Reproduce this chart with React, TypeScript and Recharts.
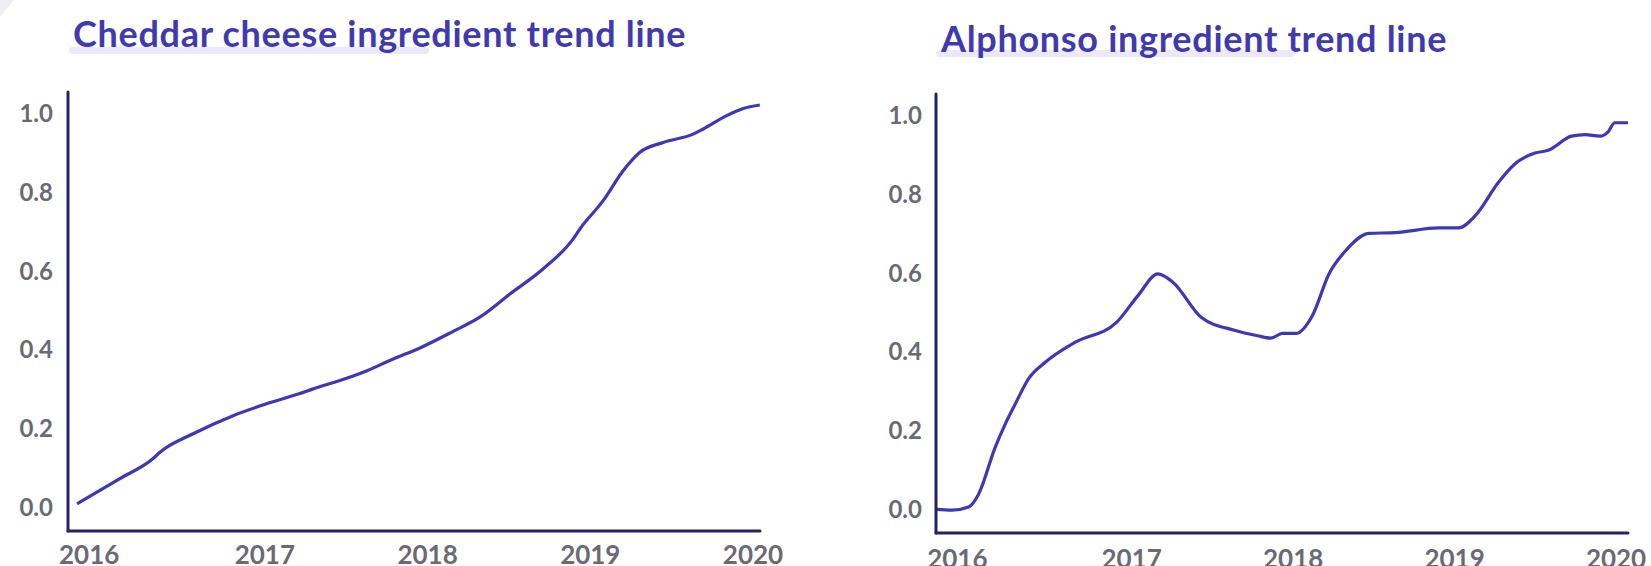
import { LineChart, Line, XAxis, YAxis } from 'recharts';

// decimal years, with the trend value at each
const cheddarYears = [
  2015.846, 2016.109, 2016.313, 2016.355, 2016.559, 2016.805, 2017.01, 2017.215, 2017.297, 2017.461,
  2017.604, 2017.789, 2017.953, 2018.157, 2018.321, 2018.506, 2018.711, 2018.895, 2018.936,
  2019.079, 2019.202, 2019.305, 2019.448, 2019.632, 2019.694, 2019.838, 2019.94, 2020.042
];
const cheddarValues = [
  0.009, 0.073, 0.124, 0.14, 0.187, 0.233, 0.263, 0.289, 0.301, 0.322,
  0.343, 0.377, 0.405, 0.447, 0.483, 0.542, 0.606, 0.682, 0.707,
  0.779, 0.855, 0.902, 0.927, 0.948, 0.961, 0.995, 1.013, 1.022
];

const alphonsoYears = [
  2015.788, 2015.887, 2015.99, 2016.051, 2016.154, 2016.216, 2016.278, 2016.36, 2016.463,
  2016.648, 2016.906, 2017.039, 2017.162, 2017.255, 2017.43, 2017.636, 2017.78, 2017.862,
  2017.934, 2018.017, 2018.119, 2018.222, 2018.325, 2018.469, 2018.634, 2018.901, 2019.025,
  2019.128, 2019.272, 2019.375, 2019.498, 2019.58, 2019.724, 2019.807, 2019.9, 2019.951,
  2019.992, 2020.074
];
const alphonsoValues = [
  0.0, -0.002, 0.006, 0.038, 0.157, 0.216, 0.267, 0.331, 0.373,
  0.424, 0.475, 0.543, 0.598, 0.577, 0.488, 0.455, 0.441, 0.435,
  0.447, 0.447, 0.492, 0.598, 0.657, 0.701, 0.703, 0.715, 0.715,
  0.746, 0.831, 0.878, 0.905, 0.912, 0.948, 0.952, 0.948, 0.959,
  0.982, 0.982
];

const yearTicks = [2015.92, 2017, 2018, 2019, 2020];
const yearLabels = ['2016', '2017', '2018', '2019', '2020'];
const valueTicks = [0, 0.2, 0.4, 0.6, 0.8, 1.0];

const LINE = '#3d38b5';
const AXIS = '#262262';
const TICK = '#6b6a74';
const TITLE = '#3f3ab0';
const FONT = 'Lato, "Open Sans", sans-serif';

const yTickStyle = { fill: TICK, fontSize: 24, fontWeight: 700, fontFamily: FONT };
const xTickStyle = { fill: TICK, fontSize: 26, fontWeight: 700, fontFamily: FONT };
const axisLine = { stroke: AXIS, strokeWidth: 3, strokeLinecap: 'round' as const };

interface TrendProps {
  years: number[];
  values: number[];
  domain: [number, number];
  width: number;
  yAxisWidth: number;
  top: number;
  right: number;
  xAxisHeight: number;
  xGap: number;
  yGap: number;
}

function TrendChart({ years, values, domain, width, yAxisWidth, top, right, xAxisHeight, xGap, yGap }: TrendProps) {
  const data = years.map((t, i) => ({ t, v: values[i] }));
  return (
    <LineChart width={width} height={566} data={data} margin={{ top, right, bottom: 0, left: 0 }}>
      <XAxis
        dataKey="t"
        type="number"
        domain={domain}
        ticks={yearTicks}
        interval={0}
        allowDataOverflow
        height={xAxisHeight}
        axisLine={axisLine}
        tickLine={false}
        tickSize={0}
        tickMargin={xGap}
        tick={xTickStyle}
        tickFormatter={(_v: number, i: number) => yearLabels[i]}
      />
      <YAxis
        type="number"
        domain={[-0.06, 1.055]}
        ticks={valueTicks}
        interval={0}
        allowDataOverflow
        width={yAxisWidth}
        axisLine={axisLine}
        tickLine={false}
        tickSize={0}
        tickMargin={yGap}
        tick={yTickStyle}
        tickFormatter={(v: number) => v.toFixed(1)}
      />
      <Line
        dataKey="v"
        type="monotone"
        stroke={LINE}
        strokeWidth={3.2}
        dot={false}
        isAnimationActive={false}
      />
    </LineChart>
  );
}

function Title({ text, left, top, barLeft, barTop, barWidth }: { text: string; left: number; top: number; barLeft: number; barTop: number; barWidth: number }) {
  return (
    <>
      <div
        style={{
          position: 'absolute',
          left: barLeft,
          top: barTop,
          width: barWidth,
          height: 7,
          borderRadius: 4,
          background: '#ebe9f8'
        }}
      />
      <div
        style={{
          position: 'absolute',
          left,
          top,
          fontFamily: FONT,
          fontWeight: 700,
          fontSize: 36,
          letterSpacing: 0.7,
          lineHeight: '44px',
          color: TITLE,
          whiteSpace: 'nowrap'
        }}
      >
        {text}
      </div>
    </>
  );
}

export default function App() {
  return (
    <div style={{ position: 'absolute', left: 0, top: 0, width: 1651, height: 566, background: '#fff', overflow: 'hidden' }}>
      <div
        style={{
          position: 'absolute',
          left: 0,
          top: 0,
          width: 14,
          height: 17,
          background: '#eeeef4',
          clipPath: 'polygon(0 0, 100% 0, 0 100%)'
        }}
      />
      <Title text="Cheddar cheese ingredient trend line" left={73} top={11} barLeft={69} barTop={47} barWidth={360} />
      <Title text="Alphonso ingredient trend line" left={941} top={16} barLeft={936} barTop={50} barWidth={359} />
      <div style={{ position: 'absolute', left: 0, top: 0 }}>
        <TrendChart
          years={cheddarYears}
          values={cheddarValues}
          domain={[2015.79, 2020.043]}
          width={800}
          yAxisWidth={68}
          top={92}
          right={40}
          xAxisHeight={35}
          xGap={15}
          yGap={15}
        />
      </div>
      <div style={{ position: 'absolute', left: 860, top: 0 }}>
        <TrendChart
          years={alphonsoYears}
          values={alphonsoValues}
          domain={[2015.788, 2020.074]}
          width={791}
          yAxisWidth={76}
          top={94}
          right={23}
          xAxisHeight={33}
          xGap={17}
          yGap={14}
        />
      </div>
    </div>
  );
}
